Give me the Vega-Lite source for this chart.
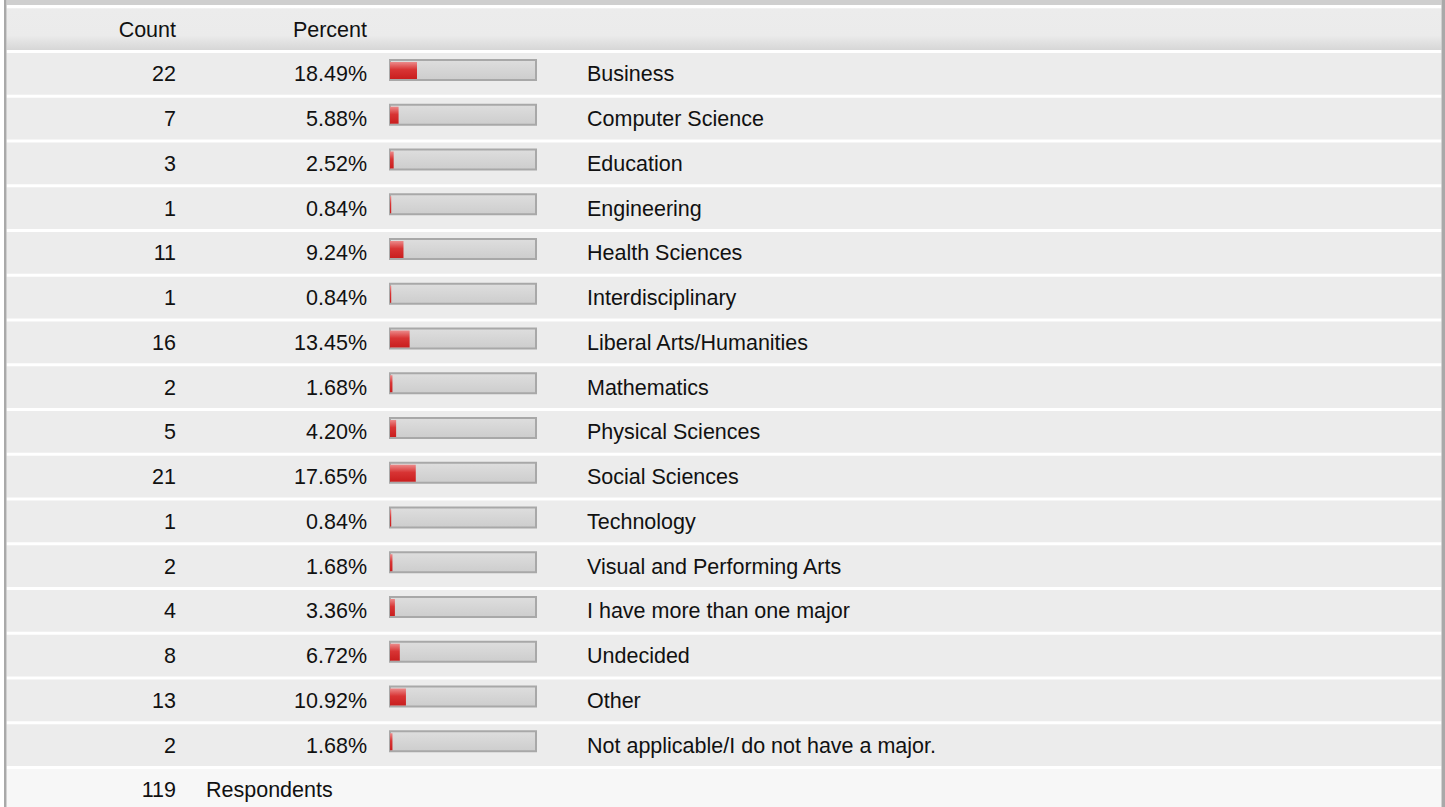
{
  "$schema": "https://vega.github.io/schema/vega-lite/v6.json",
  "width": 1445,
  "height": 807,
  "autosize": "none",
  "padding": 0,
  "background": "white",
  "view": {"stroke": null},
  "config": {"text": {"font": "Liberation Sans", "fontSize": 21.5, "color": "#111111", "dy": 1.5}},
  "datasets": {
    "rows": [
      {"i": 1, "count": 22, "pct": 18.49, "pctLabel": "18.49%", "label": "Business"},
      {"i": 2, "count": 7, "pct": 5.88, "pctLabel": "5.88%", "label": "Computer Science"},
      {"i": 3, "count": 3, "pct": 2.52, "pctLabel": "2.52%", "label": "Education"},
      {"i": 4, "count": 1, "pct": 0.84, "pctLabel": "0.84%", "label": "Engineering"},
      {"i": 5, "count": 11, "pct": 9.24, "pctLabel": "9.24%", "label": "Health Sciences"},
      {"i": 6, "count": 1, "pct": 0.84, "pctLabel": "0.84%", "label": "Interdisciplinary"},
      {"i": 7, "count": 16, "pct": 13.45, "pctLabel": "13.45%", "label": "Liberal Arts/Humanities"},
      {"i": 8, "count": 2, "pct": 1.68, "pctLabel": "1.68%", "label": "Mathematics"},
      {"i": 9, "count": 5, "pct": 4.2, "pctLabel": "4.20%", "label": "Physical Sciences"},
      {"i": 10, "count": 21, "pct": 17.65, "pctLabel": "17.65%", "label": "Social Sciences"},
      {"i": 11, "count": 1, "pct": 0.84, "pctLabel": "0.84%", "label": "Technology"},
      {"i": 12, "count": 2, "pct": 1.68, "pctLabel": "1.68%", "label": "Visual and Performing Arts"},
      {"i": 13, "count": 4, "pct": 3.36, "pctLabel": "3.36%", "label": "I have more than one major"},
      {"i": 14, "count": 8, "pct": 6.72, "pctLabel": "6.72%", "label": "Undecided"},
      {"i": 15, "count": 13, "pct": 10.92, "pctLabel": "10.92%", "label": "Other"},
      {"i": 16, "count": 2, "pct": 1.68, "pctLabel": "1.68%", "label": "Not applicable/I do not have a major."}
    ],
    "header": [{"i": 0, "c1": "Count", "c2": "Percent"}],
    "total": [{"i": 17, "c1": "119", "c2": "Respondents"}]
  },
  "encoding": {
    "y": {
      "field": "i",
      "type": "ordinal",
      "axis": null,
      "scale": {"domain": [0,1,2,3,4,5,6,7,8,9,10,11,12,13,14,15,16,17], "range": [6.85, 812.35], "paddingInner": 0.067, "paddingOuter": 0.0335}
    }
  },
  "layer": [
    {
      "data": {"name": "rows"},
      "mark": {"type": "rect", "fill": "#ececec"},
      "encoding": {"x": {"value": 6.5}, "x2": {"value": 1441.5}}
    },
    {
      "data": {"name": "header"},
      "mark": {"type": "rect", "fill": {"gradient": "linear", "x1": 0, "y1": 0, "x2": 0, "y2": 1, "stops": [{"offset": 0, "color": "#ececec"}, {"offset": 0.65, "color": "#ebebeb"}, {"offset": 1, "color": "#d6d6d6"}]}},
      "encoding": {"x": {"value": 6.5}, "x2": {"value": 1441.5}}
    },
    {
      "data": {"name": "total"},
      "mark": {"type": "rect", "fill": "#f7f7f7"},
      "encoding": {"x": {"value": 6.5}, "x2": {"value": 1441.5}}
    },
    {
      "data": {"values": [{}]},
      "mark": {"type": "rect", "fill": "#cfcfcf"},
      "encoding": {"x": {"value": 6.5}, "x2": {"value": 1441.5}, "y": {"value": 0}, "y2": {"value": 5}}
    },
    {
      "data": {"values": [{}]},
      "mark": {"type": "rect", "fill": "#a9a9a9"},
      "encoding": {"x": {"value": 4}, "x2": {"value": 6.5}, "y": {"value": 0}, "y2": {"value": 807}}
    },
    {
      "data": {"values": [{}]},
      "mark": {"type": "rect", "fill": "#a9a9a9"},
      "encoding": {"x": {"value": 1441.5}, "x2": {"value": 1445}, "y": {"value": 0}, "y2": {"value": 807}}
    },
    {
      "data": {"name": "rows"},
      "mark": {"type": "bar", "size": 20, "yOffset": -4, "stroke": "#a8a8a8", "strokeWidth": 2, "fill": {"gradient": "linear", "x1": 0, "y1": 0, "x2": 0, "y2": 1, "stops": [{"offset": 0, "color": "#dedede"}, {"offset": 1, "color": "#cdcdcd"}]}},
      "encoding": {
        "x": {"datum": 0, "type": "quantitative", "scale": {"domain": [0, 100], "range": [390, 536], "zero": true}, "axis": null},
        "x2": {"datum": 100}
      }
    },
    {
      "data": {"name": "rows"},
      "mark": {"type": "bar", "size": 17, "yOffset": -3.5, "fill": {"gradient": "linear", "x1": 0, "y1": 0, "x2": 0, "y2": 1, "stops": [{"offset": 0, "color": "#ec8a8a"}, {"offset": 0.45, "color": "#d83434"}, {"offset": 1, "color": "#c91e1e"}]}},
      "encoding": {
        "x": {"field": "pct", "type": "quantitative", "axis": null},
        "x2": {"datum": 0}
      }
    },
    {
      "data": {"name": "header"},
      "mark": {"type": "text", "align": "right", "baseline": "middle"},
      "encoding": {"x": {"value": 176}, "text": {"field": "c1"}}
    },
    {
      "data": {"name": "header"},
      "mark": {"type": "text", "align": "right", "baseline": "middle"},
      "encoding": {"x": {"value": 367}, "text": {"field": "c2"}}
    },
    {
      "data": {"name": "rows"},
      "mark": {"type": "text", "align": "right", "baseline": "middle"},
      "encoding": {"x": {"value": 176}, "text": {"field": "count"}}
    },
    {
      "data": {"name": "rows"},
      "mark": {"type": "text", "align": "right", "baseline": "middle"},
      "encoding": {"x": {"value": 367}, "text": {"field": "pctLabel"}}
    },
    {
      "data": {"name": "rows"},
      "mark": {"type": "text", "align": "left", "baseline": "middle"},
      "encoding": {"x": {"value": 587}, "text": {"field": "label"}}
    },
    {
      "data": {"name": "total"},
      "mark": {"type": "text", "align": "right", "baseline": "middle"},
      "encoding": {"x": {"value": 176}, "text": {"field": "c1"}}
    },
    {
      "data": {"name": "total"},
      "mark": {"type": "text", "align": "left", "baseline": "middle"},
      "encoding": {"x": {"value": 206}, "text": {"field": "c2"}}
    }
  ]
}
